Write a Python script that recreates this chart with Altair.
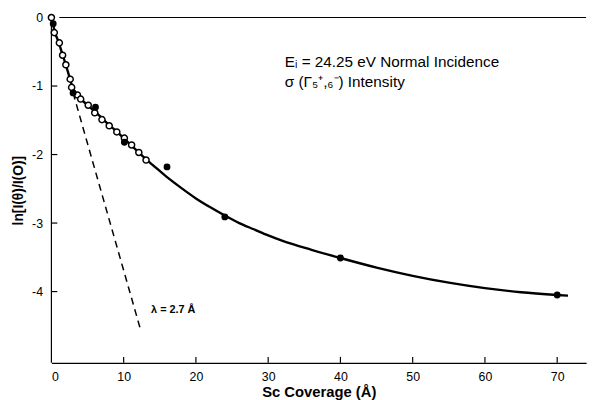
import altair as alt
import pandas as pd

# ---- data ----
open_x = [0, 0.4, 1.1, 1.55, 2.0, 2.6, 2.8, 3.6, 4.05, 5.1, 6.0, 7.0, 8.0, 9.05, 10.1, 11.1, 12.1, 13.1]
open_y = [0, -0.22, -0.37, -0.55, -0.69, -0.90, -1.02, -1.13, -1.19, -1.28, -1.39, -1.49, -1.58, -1.67, -1.76, -1.86, -1.97, -2.08]

filled_x = [0.25, 3.0, 6.1, 10.1, 16, 24, 40, 70]
filled_y = [-0.09, -1.10, -1.31, -1.82, -2.18, -2.91, -3.51, -4.05]

curve_x = [0, 0.5, 1, 1.5, 2, 2.5, 3, 3.5, 4, 5, 6, 7, 8, 9, 10, 11, 12, 13, 14, 16, 18, 20, 22, 24, 26, 28, 30, 32, 36, 40, 45, 50, 55, 60, 65, 70, 71.5]
curve_y = [0, -0.22, -0.36, -0.53, -0.69, -0.87, -1.04, -1.12, -1.18, -1.28, -1.37, -1.47, -1.57, -1.66, -1.76, -1.86, -1.96, -2.06, -2.15, -2.33, -2.49, -2.64, -2.77, -2.89, -3.00, -3.09, -3.18, -3.26, -3.39, -3.51, -3.65, -3.77, -3.87, -3.95, -4.01, -4.05, -4.06]

dash_x = [3.0, 12.4]
dash_y = [-1.10, -4.58]

x_label_values = [0, 10, 20, 30, 40, 50, 60, 70]
x_tick_values = [10, 20, 30, 40, 50, 60, 70]
y_label_values = [0, -1, -2, -3, -4]
y_tick_values = [-1, -2, -3, -4]

title_line1 = "Eᵢ = 24.25 eV Normal Incidence"
title_line2 = "σ (Γ₅⁺,₆⁻)  Intensity"
lambda_label = "λ = 2.7 Å"

# ---- chart ----
FONT = "Liberation Sans"
W, H = 542, 356
xs = alt.Scale(domain=[0, 74], nice=False, zero=False)
ys = alt.Scale(domain=[-5.04, 0.086], nice=False, zero=False)

curve_df = pd.DataFrame({"x": curve_x, "y": curve_y})
open_df = pd.DataFrame({"x": open_x, "y": open_y})
filled_df = pd.DataFrame({"x": filled_x, "y": filled_y})
dash_df = pd.DataFrame({"x": dash_x, "y": dash_y})
one = pd.DataFrame({"a": [0]})

X = lambda: alt.X("x:Q", scale=xs)
Y = lambda: alt.Y("y:Q", scale=ys)

curve = alt.Chart(curve_df).mark_line(
    color="black", strokeWidth=2.4, interpolate="monotone", clip=False
).encode(
    x=alt.X("x:Q", scale=xs, axis=alt.Axis(
        values=x_label_values, ticks=False, grid=False, domain=True,
        domainColor="black", domainWidth=1.2,
        labelFont=FONT, labelFontSize=12.5, labelColor="black", labelPadding=8,
        labelExpr="toString(datum.value)",
        title="Sc Coverage (Å)", titleFont=FONT, titleFontSize=15,
        titleFontWeight="bold", titleColor="black", titlePadding=2)),
    y=alt.Y("y:Q", scale=ys, axis=alt.Axis(
        values=y_label_values, ticks=False, grid=False, domain=False,
        labelFont=FONT, labelFontSize=12.5, labelColor="black", labelPadding=9,
        labelExpr="toString(datum.value)",
        title="ln[I(θ)/I(O)]", titleFont=FONT, titleFontSize=14,
        titleFontWeight="bold", titleColor="black",
        titleAngle=270, titleAlign="center", titleBaseline="middle",
        titleX=-33, titleY=181)),
)

dashed = alt.Chart(dash_df).mark_line(
    color="black", strokeWidth=1.5, strokeDash=[7, 5]
).encode(x=X(), y=Y())

open_pts = alt.Chart(open_df).mark_point(
    shape="circle", filled=True, fill="white", stroke="black",
    strokeWidth=1.5, size=38, opacity=1, clip=False
).encode(x=X(), y=Y())

filled_pts = alt.Chart(filled_df).mark_point(
    shape="circle", filled=True, color="black", size=48, opacity=1, clip=False
).encode(x=X(), y=Y())

y_axis_line = alt.Chart(one).mark_rule(color="black", strokeWidth=1.2).encode(
    x=alt.value(0), y=alt.datum(0), y2=alt.value(H))

zero_line = alt.Chart(one).mark_rule(color="black", strokeWidth=1.2).encode(
    x=alt.datum(1.1), x2=alt.datum(74), y=alt.datum(0))

x_ticks = alt.Chart(pd.DataFrame({"x": x_tick_values})).mark_rule(
    color="black", strokeWidth=1.2
).encode(x=X(), y=alt.value(H), y2=alt.value(H - 6))

y_ticks = alt.Chart(pd.DataFrame({"y": y_tick_values})).mark_rule(
    color="black", strokeWidth=1.2
).encode(y=Y(), x=alt.value(0), x2=alt.value(6))

t1 = alt.Chart(one).mark_text(
    align="left", baseline="middle", font=FONT, fontSize=15.5, color="black"
).encode(x=alt.datum(32.3), y=alt.datum(-0.65), text=alt.value(title_line1))

t2 = alt.Chart(one).mark_text(
    align="left", baseline="middle", font=FONT, fontSize=15.5, color="black"
).encode(x=alt.datum(32.3), y=alt.datum(-0.94), text=alt.value(title_line2))

t3 = alt.Chart(one).mark_text(
    align="left", baseline="middle", font=FONT, fontSize=11, fontWeight="bold",
    color="black"
).encode(x=alt.datum(13.8), y=alt.datum(-4.27), text=alt.value(lambda_label))

chart = alt.layer(
    curve, dashed, zero_line, y_axis_line, x_ticks, y_ticks,
    open_pts, filled_pts, t1, t2, t3
).properties(
    width=W, height=H,
    autosize=alt.AutoSizeParams(type="none"),
    padding={"left": 44, "top": 1, "right": 7, "bottom": 35},
    background="white",
).configure_view(stroke=None)

chart.save("out.html", embed_options={"renderer": "svg", "actions": False})
